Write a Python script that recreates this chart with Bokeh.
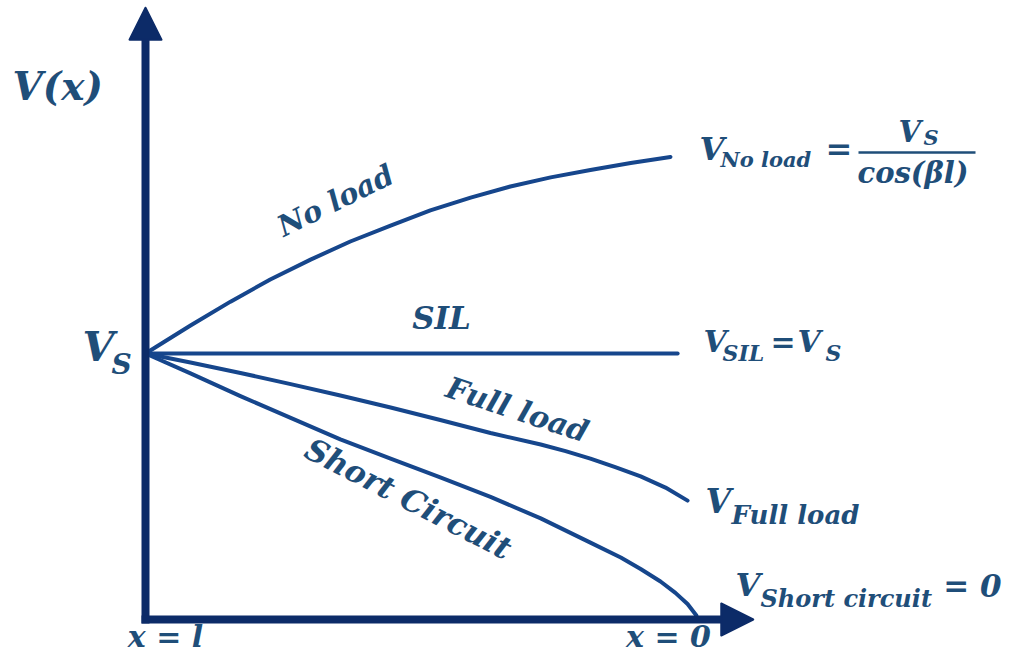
from bokeh.plotting import figure
from bokeh.models import Range1d, Label, Arrow, NormalHead
from bokeh.embed import file_html
from bokeh.resources import INLINE

# ---------------- data (position along line: 0 at x=l, 1 at x=0; voltage in units of Vs)
noload_x = [0.0, 0.0815, 0.154, 0.226, 0.299, 0.371, 0.444, 0.516, 0.589, 0.661, 0.734, 0.806, 0.879, 0.951]
noload_v = [1.0, 1.105, 1.195, 1.278, 1.353, 1.421, 1.481, 1.538, 1.586, 1.628, 1.662, 1.690, 1.716, 1.739]
sil_x = [0.0, 0.964]
sil_v = [1.0, 1.0]
full_x = [0.0, 0.0815, 0.172, 0.263, 0.353, 0.444, 0.534, 0.625, 0.716, 0.761, 0.806, 0.851, 0.897, 0.942, 0.982]
full_v = [1.0, 0.966, 0.927, 0.885, 0.842, 0.797, 0.750, 0.701, 0.658, 0.633, 0.605, 0.573, 0.538, 0.496, 0.447]
short_x = [0.0, 0.0815, 0.172, 0.263, 0.353, 0.444, 0.534, 0.625, 0.716, 0.806, 0.861, 0.897, 0.933, 0.960, 0.982, 0.998]
short_v = [1.0, 0.925, 0.840, 0.758, 0.677, 0.605, 0.534, 0.461, 0.380, 0.289, 0.233, 0.190, 0.143, 0.100, 0.058, 0.015]

X_AXIS_END = 1.101
V_AXIS_END = 2.30

# ---------------- geometry / style
W, H = 1003, 656
ORG_X, ORG_Y = 145, 619        # pixel position of (0, 0) from top-left
PX_X, PX_V = 552, 266          # pixels per unit

AXIS_C = "#0c2b68"
CURVE_C = "#16468c"
TEXT_C = "#1f4e79"
FONT = "DejaVu Serif"

p = figure(width=W, height=H, output_backend="svg", toolbar_location=None,
           x_axis_location=None, y_axis_location=None, min_border=0,
           x_range=Range1d(-ORG_X / PX_X, (W - ORG_X) / PX_X),
           y_range=Range1d(-(H - ORG_Y) / PX_V, ORG_Y / PX_V))
p.grid.visible = False
p.outline_line_color = None
p.background_fill_color = "white"
p.border_fill_color = "white"

# axes (arrows); start a half line-width behind the origin so the corner is square
half_w_x, half_w_v = 4 / PX_X, 4 / PX_V
for xs, ys, xe, ye in [(0, -half_w_v, 0, V_AXIS_END), (-half_w_x, 0, X_AXIS_END, 0)]:
    p.add_layout(Arrow(end=NormalHead(size=32, fill_color=AXIS_C, line_color=AXIS_C,
                                      line_width=2, line_join="round"),
                       x_start=xs, y_start=ys, x_end=xe, y_end=ye,
                       line_width=8, line_color=AXIS_C, line_cap="butt"))

# curves
for xs, vs in [(noload_x, noload_v), (sil_x, sil_v), (full_x, full_v), (short_x, short_v)]:
    p.line(xs, vs, line_width=4, line_color=CURVE_C, line_cap="round", line_join="round")


def dx(px):
    return (px - ORG_X) / PX_X


def dv(py):
    return (ORG_Y - py) / PX_V


# fraction bar of V_No load formula
p.segment(x0=[dx(858)], y0=[dv(152)], x1=[dx(975)], y1=[dv(152)],
          line_width=2.5, line_color=TEXT_C)


def lab(text, px, py, size, align="left", baseline="alphabetic", angle=0.0):
    if baseline == "alphabetic":
        py = py - 0.41 * size      # renderer places alphabetic text lower than its baseline
    p.add_layout(Label(x=px, y=H - py, x_units="screen", y_units="screen",
                       text=text, text_font=FONT, text_font_style="bold italic",
                       text_font_size=f"{size}px", text_color=TEXT_C,
                       text_align=align, text_baseline=baseline, angle=angle))


# axis labels
lab("V(x)", 12, 101, 39)
lab("V", 82, 363, 41)
lab("S", 111, 375, 28)
lab("x = l", 165, 648, 30, align="center")
lab("x = 0", 668, 648, 30, align="center")

# curve labels
lab("No load", 335, 200, 29, align="center", baseline="middle", angle=0.46)
lab("SIL", 441, 317, 31, align="center", baseline="middle")
lab("Full load", 517, 409, 30, align="center", baseline="middle", angle=-0.32)
lab("Short Circuit", 408, 498, 31, align="center", baseline="middle", angle=-0.475)

# end labels
lab("V", 699, 162, 32)
lab("No load", 720, 168, 21)
lab("=", 825, 162, 32)
lab("V", 898, 143, 29)
lab("S", 923, 146, 21)
lab("cos(βl)", 857, 184, 29)

lab("V", 703, 353, 30)
lab("SIL", 722, 362, 22)
lab("=", 770, 353, 30)
lab("V", 797, 353, 30)
lab("S", 825, 362, 22)

lab("V", 705, 515, 33)
lab("Full load", 731, 525, 26)

lab("V", 735, 598, 32)
lab("Short circuit", 760, 608, 24)
lab("= 0", 1001, 598, 31, align="right")

open("out.html", "w").write(file_html(p, INLINE))
